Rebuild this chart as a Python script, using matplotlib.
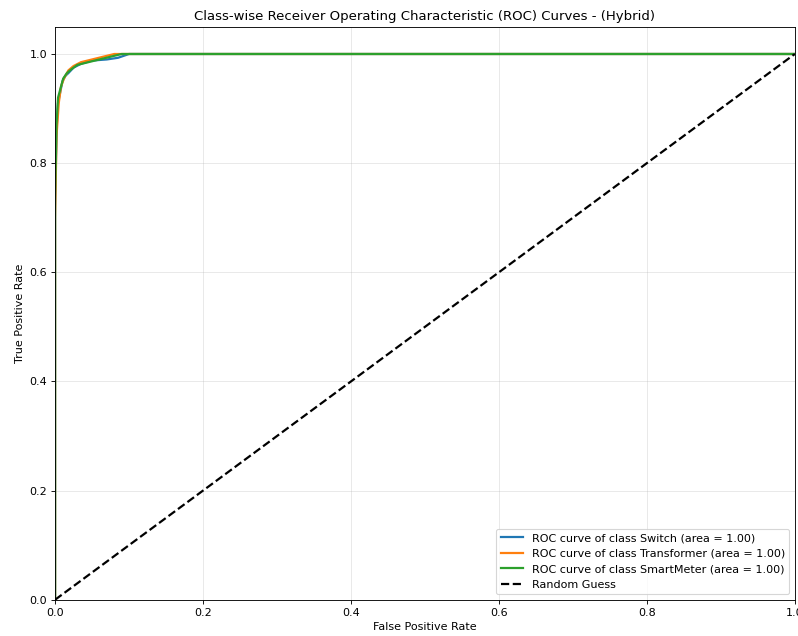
import matplotlib.pyplot as plt

# ROC points
fpr_switch = [0.0, 0.0, 0.002, 0.004, 0.007, 0.010, 0.014, 0.018, 0.025, 0.035, 0.05, 0.07, 0.085, 0.10, 1.0]
tpr_switch = [0.0, 0.72, 0.86, 0.91, 0.93, 0.95, 0.96, 0.965, 0.975, 0.982, 0.988, 0.990, 0.993, 1.0, 1.0]

fpr_trans = [0.0, 0.0, 0.002, 0.005, 0.008, 0.012, 0.018, 0.025, 0.035, 0.05, 0.065, 0.08, 1.0]
tpr_trans = [0.0, 0.70, 0.85, 0.91, 0.94, 0.955, 0.97, 0.978, 0.985, 0.99, 0.995, 1.0, 1.0]

fpr_smart = [0.0, 0.0, 0.002, 0.004, 0.007, 0.011, 0.016, 0.022, 0.03, 0.045, 0.06, 0.075, 0.09, 1.0]
tpr_smart = [0.0, 0.74, 0.87, 0.92, 0.935, 0.955, 0.965, 0.972, 0.98, 0.985, 0.99, 0.995, 1.0, 1.0]

classes = ["Switch", "Transformer", "SmartMeter"]
aucs = [1.00, 1.00, 1.00]
colors = ["#1f77b4", "#ff7f0e", "#2ca02c"]

fig = plt.figure(figsize=(10, 7.97), dpi=79.8)
ax = fig.add_axes([0.069, 0.057, 0.927, 0.901])

curves = [(fpr_switch, tpr_switch), (fpr_trans, tpr_trans), (fpr_smart, tpr_smart)]
for (f, t), name, a, c in zip(curves, classes, aucs, colors):
    ax.plot(f, t, color=c, lw=2, label=f"ROC curve of class {name} (area = {a:.2f})")

ax.plot([0, 1], [0, 1], "k--", lw=2, label="Random Guess")
ax.set_xlim(0.0, 1.0)
ax.set_ylim(0.0, 1.05)
ax.set_xlabel("False Positive Rate")
ax.set_ylabel("True Positive Rate")
ax.set_title("Class-wise Receiver Operating Characteristic (ROC) Curves - (Hybrid)")
ax.legend(loc="lower right")
ax.grid(alpha=0.3)

fig.savefig("out.png")
